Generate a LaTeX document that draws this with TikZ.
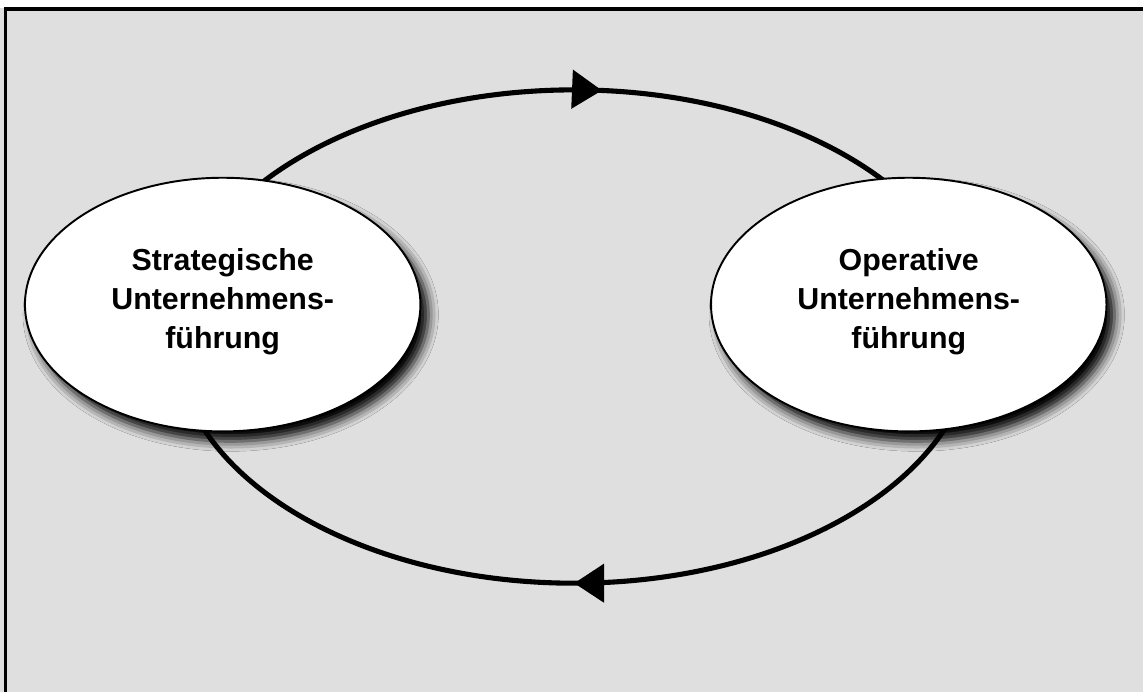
\documentclass[tikz,border=0pt]{standalone}
\usepackage{fontspec}
\setmainfont{Liberation Sans}
\usepackage{tikz}
\usetikzlibrary{shapes.geometric, arrows.meta, decorations.markings, shadows.blur}

\begin{document}
\begin{tikzpicture}[
  loopline/.style={line width=2.9pt},
  midarrow/.style={postaction={decorate}, decoration={markings,
      mark=at position #1 with {\arrow{Triangle[length=6mm, width=7.6mm]}}}},
  unit/.style={ellipse, draw, line width=1.1pt, fill=white,
      minimum width=7.92cm, minimum height=5.08cm, align=center,
      font=\fontsize{17.3}{22.3}\selectfont\bfseries,
      blur shadow={shadow xshift=0.16cm, shadow yshift=-0.2cm,
        shadow blur radius=0.2cm, shadow opacity=100}}
]
% background and frame
\fill[gray!25] (0,0) rectangle (22.9,13.86);
\fill[white] (0,13.7) rectangle (22.9,13.86);
\draw[line width=1.8pt] (0.11,0) -- (0.11,13.68) -- (22.9,13.68);

% loop between the two units
\coordinate (loopW) at (3.5,7.12);
\coordinate (loopE) at (19.5,7.12);
\draw[loopline, midarrow=0.527] (loopW) arc[start angle=180, end angle=0, x radius=8, y radius=4.94];
\draw[loopline, midarrow=0.5] (loopE) arc[start angle=0, end angle=-180, x radius=8, y radius=4.94];

\node[unit] (strat) at (4.46,7.76) {Strategische\\Unternehmens-\\führung\rule[-0.25cm]{0pt}{0pt}};
\node[unit] (oper) at (18.2,7.76) {Operative\\Unternehmens-\\führung\rule[-0.25cm]{0pt}{0pt}};
\end{tikzpicture}
\end{document}
